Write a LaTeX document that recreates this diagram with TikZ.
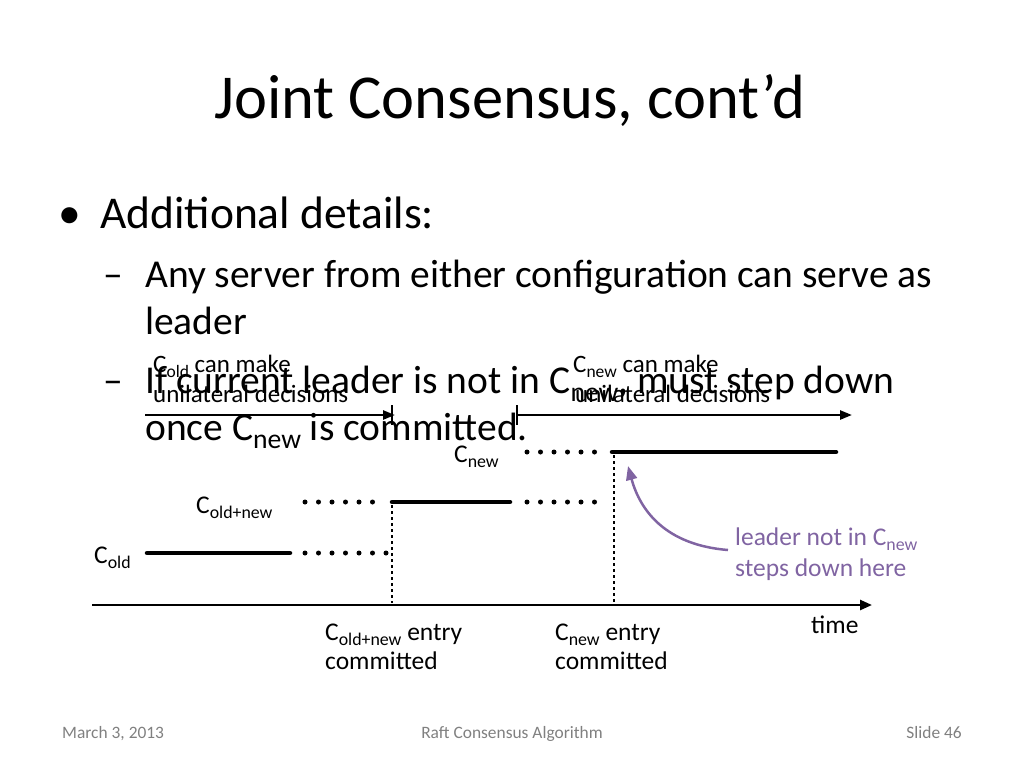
\documentclass[tikz,border=0pt]{standalone}
\usepackage{fontspec}
\setmainfont{Carlito}
\usetikzlibrary{arrows.meta,positioning}
\definecolor{leaderpurple}{RGB}{128,100,162}
\newcommand\sub[1]{\raisebox{-0.45ex}{\fontsize{0.7em}{1em}\selectfont #1}}
\tikzset{
  every node/.style={inner sep=0pt,anchor=base west},
  thickline/.style={line width=4.5pt,line cap=round},
  dotline/.style={line width=5pt,dash pattern=on 0pt off 13.5pt,line cap=round},
  vdots/.style={line width=2.5pt,dash pattern=on 2.5pt off 3.5pt},
  smalltxt/.style={font=\fontsize{25}{30}\selectfont,align=left},
  midtxt/.style={font=\fontsize{25.5}{29}\selectfont,align=left},
  bodytxt/.style={font=\fontsize{39.5}{44}\selectfont},
  foottxt/.style={font=\fontsize{17.4}{20}\selectfont,text=gray}
}
\begin{document}
\begin{tikzpicture}[x=1pt,y=-1pt]
\useasboundingbox (0,0) rectangle (1024,768);
% title and bullets
\node[anchor=base,font=\fontsize{62.5}{70}\selectfont] (title) at (510,118) {Joint Consensus, cont’d};
\node[font=\fontsize{45.5}{50}\selectfont] (dot1) at (58,228) {•};
\node[font=\fontsize{45.5}{50}\selectfont] (b1) at (100,228) {Additional details:};
\node[bodytxt] (dash2) at (103,287) {–};
\node[bodytxt] (b2) at (145,287) {Any server from either configuration can serve as};
\node[bodytxt] (b2b) at (145,334) {leader};
\node[bodytxt] (dash3) at (103,393) {–};
\node[bodytxt] (b3) at (145,393) {If current leader is not in C\sub{new}, must step down};
\node[bodytxt] (b3b) at (145,440) {once C\sub{new} is committed.};
% unilateral arrows
\node[smalltxt] (uold) at (153,372) {C\sub{old} can make};
\node[smalltxt] (uold2) at (153,402) {unilateral decisions};
\node[smalltxt] (unew) at (573,372) {C\sub{new} can make};
\node[smalltxt] (unew2) at (575,402) {unilateral decisions};
\coordinate (ua0) at (145,415);
\coordinate (ua1) at (395,415);
\coordinate (ub0) at (517,415);
\coordinate (ub1) at (852,415);
\draw[line width=2.5pt,-{Triangle[length=12pt,width=9pt]}] (ua0) -- (ua1);
\draw[line width=2.5pt] (392,405) -- (392,425);
\draw[line width=2.5pt,-{Triangle[length=12pt,width=9pt]}] (ub0) -- (ub1);
\draw[line width=2.5pt] (517,405) -- (517,425);
% configuration lines
\node[midtxt] (lnew) at (454,462) {C\sub{new}};
\node[midtxt] (lboth) at (196,513) {C\sub{old+new}};
\node[midtxt] (lold) at (94,563) {C\sub{old}};
\draw[dotline] (527,452) -- (600,452);
\draw[thickline] (612,452) -- (836,452);
\draw[dotline] (305,502) -- (380,502);
\draw[thickline] (392,502) -- (510,502);
\draw[dotline] (527,502) -- (600,502);
\draw[thickline] (147,553) -- (290,553);
\draw[dotline] (305,553) -- (388,553);
\draw[vdots] (392,505) -- (392,603);
\draw[vdots] (614,455) -- (614,603);
% time axis
\coordinate (t0) at (92,605);
\coordinate (t1) at (872,605);
\draw[line width=2.5pt,-{Triangle[length=12pt,width=10pt]}] (t0) -- (t1);
\node[midtxt] (time) at (811,633) {time};
\node[midtxt] (cboth) at (325,640) {C\sub{old+new} entry};
\node[midtxt] (cboth2) at (325,669) {committed};
\node[midtxt] (cnew) at (555,640) {C\sub{new} entry};
\node[midtxt] (cnew2) at (555,669) {committed};
% leader note
\node[midtxt,text=leaderpurple] (note) at (735,545) {leader not in C\sub{new}};
\node[midtxt,text=leaderpurple] (note2) at (735,576) {steps down here};
\coordinate (tip) at (628,466);
\draw[leaderpurple,line width=2.5pt,-{Triangle[length=14pt,width=11pt]}] (728,550) .. controls (665,545) and (640,510) .. (tip);
% footer
\node[foottxt] (date) at (62,738) {March 3, 2013};
\node[foottxt,anchor=base] (foot) at (512,738) {Raft Consensus Algorithm};
\node[foottxt,anchor=base east] (slide) at (962,738) {Slide 46};
\end{tikzpicture}
\end{document}
